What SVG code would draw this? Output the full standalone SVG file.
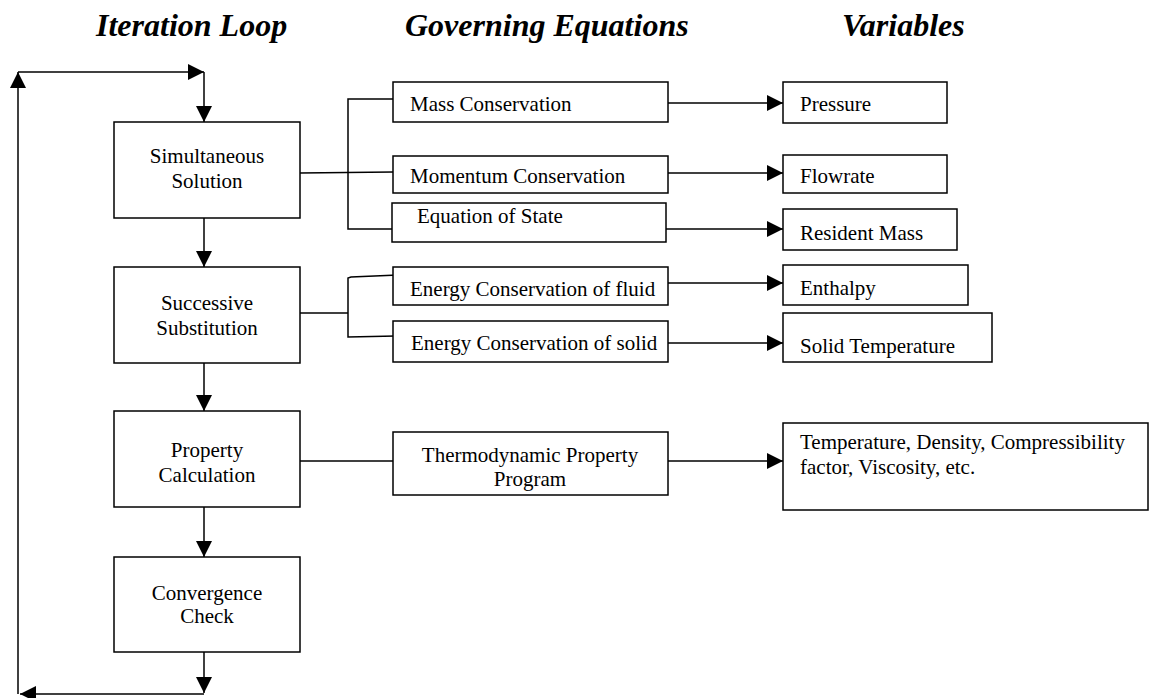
<svg xmlns="http://www.w3.org/2000/svg" width="1150" height="698" viewBox="0 0 1150 698">
<style>
.box{fill:#fff;stroke:#000;stroke-width:1.5}
.ln{fill:none;stroke:#000;stroke-width:1.5}
.t{font-family:"Liberation Serif","Times New Roman",serif;font-size:21px;fill:#000}
.c{text-anchor:middle}
.h{font-family:"Liberation Serif","Times New Roman",serif;font-size:32px;font-weight:bold;font-style:italic;fill:#000}
</style>
<defs>
<marker id="ar" markerWidth="16" markerHeight="16" refX="16" refY="8" orient="auto" markerUnits="userSpaceOnUse" viewBox="0 0 16 16">
<path d="M0,0 L16,8 L0,16 Z" fill="#000"/>
</marker>
</defs>
<rect width="1150" height="698" fill="#fff"/>
<g id="titles">
<text class="h" x="96" y="36">Iteration Loop</text>
<text class="h" x="405" y="36">Governing Equations</text>
<text class="h" x="842" y="36">Variables</text>
</g>
<g id="connectors">
<path class="ln" d="M18,694 L18,72" marker-end="url(#ar)"/>
<path class="ln" d="M18,72 L204,72" marker-end="url(#ar)"/>
<path class="ln" d="M204,72 L204,122" marker-end="url(#ar)"/>
<path class="ln" d="M204,218 L204,267" marker-end="url(#ar)"/>
<path class="ln" d="M204,363 L204,411" marker-end="url(#ar)"/>
<path class="ln" d="M204,507 L204,557" marker-end="url(#ar)"/>
<path class="ln" d="M204,652 L204,693" marker-end="url(#ar)"/>
<path class="ln" d="M204,694 L20,694" marker-end="url(#ar)"/>
<path class="ln" d="M300,173 L393,172"/>
<path class="ln" d="M393,99 L348,99 L348,229 L393,229"/>
<path class="ln" d="M300,313 L348,313"/>
<path class="ln" d="M398,275 L351,277 L348,278 L348,337 L396,336"/>
<path class="ln" d="M300,461 L393,461"/>
<path class="ln" d="M668,103 L783,103" marker-end="url(#ar)"/>
<path class="ln" d="M668,173 L783,173" marker-end="url(#ar)"/>
<path class="ln" d="M666,229 L783,229" marker-end="url(#ar)"/>
<path class="ln" d="M668,283 L783,283" marker-end="url(#ar)"/>
<path class="ln" d="M668,343 L783,343" marker-end="url(#ar)"/>
<path class="ln" d="M668,461 L783,461" marker-end="url(#ar)"/>
</g>
<g id="simultaneous">
<rect class="box" x="114" y="122" width="186" height="96"/>
<text class="t c" x="207" y="163">Simultaneous</text>
<text class="t c" x="207" y="188">Solution</text>
</g>
<g id="successive">
<rect class="box" x="114" y="267" width="186" height="96"/>
<text class="t c" x="207" y="310">Successive</text>
<text class="t c" x="207" y="335">Substitution</text>
</g>
<g id="property">
<rect class="box" x="114" y="411" width="186" height="96"/>
<text class="t c" x="207" y="457">Property</text>
<text class="t c" x="207" y="482">Calculation</text>
</g>
<g id="convergence">
<rect class="box" x="114" y="557" width="186" height="95"/>
<text class="t c" x="207" y="600">Convergence</text>
<text class="t c" x="207" y="623">Check</text>
</g>
<g id="mass">
<rect class="box" x="393" y="82" width="275" height="40"/>
<text class="t" x="410" y="111">Mass Conservation</text>
</g>
<g id="momentum">
<rect class="box" x="393" y="156" width="275" height="37"/>
<text class="t" x="410" y="183">Momentum Conservation</text>
</g>
<g id="state">
<rect class="box" x="392" y="203" width="274" height="39"/>
<text class="t" x="417" y="223">Equation of State</text>
</g>
<g id="energy-fluid">
<rect class="box" x="393" y="267" width="275" height="38"/>
<text class="t" x="410" y="296">Energy Conservation of fluid</text>
</g>
<g id="energy-solid">
<rect class="box" x="393" y="321" width="275" height="41"/>
<text class="t" x="411" y="350">Energy Conservation of solid</text>
</g>
<g id="thermo">
<rect class="box" x="393" y="432" width="275" height="63"/>
<text class="t c" x="530" y="462">Thermodynamic Property</text>
<text class="t c" x="530" y="486">Program</text>
</g>
<g id="pressure">
<rect class="box" x="783" y="82" width="164" height="41"/>
<text class="t" x="800" y="111">Pressure</text>
</g>
<g id="flowrate">
<rect class="box" x="783" y="155" width="164" height="38"/>
<text class="t" x="800" y="183">Flowrate</text>
</g>
<g id="resident-mass">
<rect class="box" x="783" y="209" width="174" height="41"/>
<text class="t" x="800" y="240">Resident Mass</text>
</g>
<g id="enthalpy">
<rect class="box" x="783" y="265" width="185" height="40"/>
<text class="t" x="800" y="295">Enthalpy</text>
</g>
<g id="solid-temperature">
<rect class="box" x="783" y="313" width="209" height="49"/>
<text class="t" x="800" y="353">Solid Temperature</text>
</g>
<g id="properties">
<rect class="box" x="783" y="423" width="365" height="87"/>
<text class="t" x="800" y="449">Temperature, Density, Compressibility</text>
<text class="t" x="800" y="474">factor, Viscosity, etc.</text>
</g>
</svg>
